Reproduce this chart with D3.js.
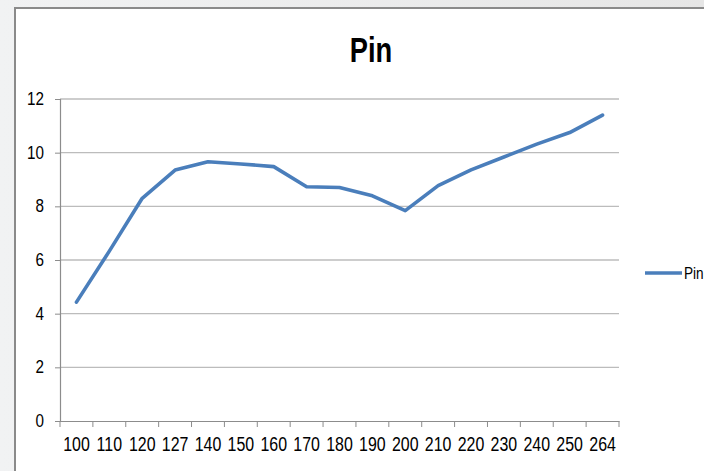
<!DOCTYPE html>
<html>
<head>
<meta charset="utf-8">
<script src="https://cdn.jsdelivr.net/npm/d3@7"></script>
<style>
  html, body { margin: 0; padding: 0; background: #eff0f1; }
  svg { display: block; }
</style>
</head>
<body>
<svg id="chart" width="704" height="471"></svg>
<script>
// Pin series by category
const categories = ["100","110","120","127","140","150","160","170","180","190","200","210","220","230","240","250","264"];
const pinValues  = [4.43, 6.33, 8.30, 9.35, 9.66, 9.58, 9.48, 8.73, 8.70, 8.39, 7.84, 8.77, 9.36, 9.84, 10.32, 10.75, 11.40];
const yTicks     = [0, 2, 4, 6, 8, 10, 12];
const seriesName = "Pin";
const chartTitle = "Pin";

const W = 704, H = 471;
const plot = { left: 60, right: 619, top: 99, bottom: 421 };
const sansFont = "'Liberation Sans', Arial, sans-serif";

const svg = d3.select("#chart");

// panel background with frame
const bg = svg.append("defs").append("linearGradient").attr("id", "outer")
  .attr("x1", 0).attr("x2", 1).attr("y1", 0).attr("y2", 0);
bg.append("stop").attr("offset", 0).attr("stop-color", "#f1f2f3");
bg.append("stop").attr("offset", 1).attr("stop-color", "#e6e6e6");
svg.append("rect").attr("width", W).attr("height", H).attr("fill", "url(#outer)");
svg.append("rect").attr("x", 15).attr("y", 8).attr("width", W).attr("height", H)
  .attr("fill", "#ffffff").attr("stroke", "#8a8a8a").attr("stroke-width", 2);

const x = d3.scaleBand().domain(categories).range([plot.left, plot.right]).padding(0);
const y = d3.scaleLinear().domain([0, 12]).range([plot.bottom, plot.top]);

// horizontal gridlines
svg.append("g").selectAll("line").data(yTicks.filter(d => d > 0)).join("line")
  .attr("x1", plot.left).attr("x2", plot.right)
  .attr("y1", d => y(d)).attr("y2", d => y(d))
  .attr("stroke", "#bcbcbc").attr("stroke-width", 1.3);

// y axis (labels right-aligned, squeezed into a condensed face)
const yAxis = svg.append("g").attr("transform", `translate(${plot.left},0)`)
  .call(d3.axisLeft(y).tickValues(yTicks).tickSize(5).tickPadding(0).tickFormat(d3.format("d")));
yAxis.select(".domain").attr("stroke", "#8c8c8c").attr("stroke-width", 1.2);
yAxis.selectAll(".tick line").attr("stroke", "#8c8c8c");
yAxis.selectAll("text")
  .style("font-family", sansFont)
  .attr("font-size", 17.5).attr("fill", "#000")
  .attr("x", -16 / 0.87)
  .attr("transform", "scale(0.87,1)");

// x axis: labels centred in bands, tick marks on band edges
const xAxis = svg.append("g").attr("transform", `translate(0,${plot.bottom})`)
  .call(d3.axisBottom(x).tickSize(0).tickPadding(15));
xAxis.select(".domain").attr("stroke", "#8c8c8c").attr("stroke-width", 1.2);
xAxis.selectAll("text")
  .style("font-family", sansFont)
  .attr("font-size", 21).attr("fill", "#000")
  .attr("transform", "scale(0.76,1)");
const edges = categories.map(c => x(c)).concat([x(categories[categories.length - 1]) + x.bandwidth()]);
xAxis.append("g").selectAll("line").data(edges).join("line")
  .attr("x1", d => d).attr("x2", d => d).attr("y1", 0).attr("y2", 6)
  .attr("stroke", "#8c8c8c").attr("stroke-width", 1);

// series line
const line = d3.line()
  .x((d, i) => x(categories[i]) + x.bandwidth() / 2)
  .y(d => y(d));
svg.append("path").datum(pinValues)
  .attr("d", line)
  .attr("fill", "none")
  .attr("stroke", "#4a7ebb")
  .attr("stroke-width", 3.6)
  .attr("stroke-linejoin", "round")
  .attr("stroke-linecap", "round");

// title
svg.append("g").attr("transform", "translate(371,62) scale(0.78,1)")
  .append("text")
  .attr("text-anchor", "middle")
  .style("font-family", sansFont)
  .attr("font-weight", "bold").attr("font-size", 35).attr("fill", "#000")
  .text(chartTitle);

// legend
const lg = svg.append("g").attr("transform", "translate(645,273)");
lg.append("line").attr("x1", 0).attr("x2", 37).attr("y1", 0).attr("y2", 0)
  .attr("stroke", "#4a7ebb").attr("stroke-width", 3.6);
lg.append("g").attr("transform", "translate(39,6) scale(0.8,1)")
  .append("text")
  .style("font-family", sansFont)
  .attr("font-size", 17).attr("fill", "#000")
  .text(seriesName);
</script>
</body>
</html>
